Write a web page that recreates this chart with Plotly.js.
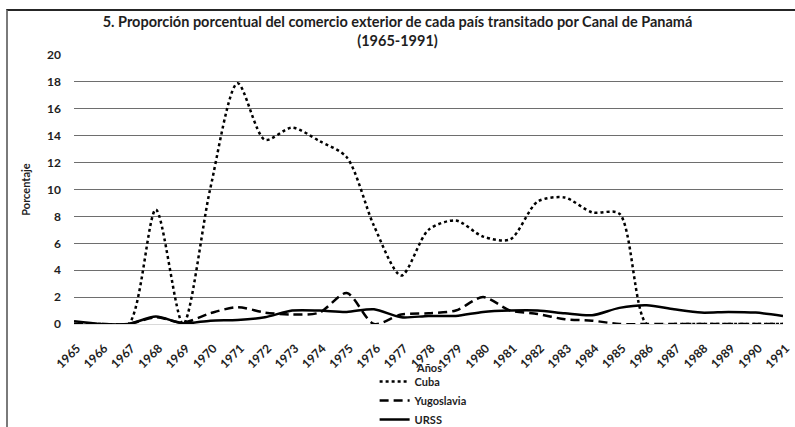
<!DOCTYPE html>
<html>
<head>
<meta charset="utf-8">
<script src="https://cdn.plot.ly/plotly-3.0.1.min.js"></script>
<style>
  html, body { margin: 0; padding: 0; background: #fff; }
  #wrap { position: relative; width: 795px; height: 427px; overflow: hidden; }
  #chart { position: absolute; left: 0; top: 0; width: 795px; height: 427px; }
  #frame { position: absolute; left: 6px; top: 9px; width: 820px; height: 440px;
           border-left: 2px solid #7a7a7a; border-top: 2px solid #262626; pointer-events: none; }
</style>
</head>
<body>
<div id="wrap">
  <div id="chart"></div>
  <div id="frame"></div>
</div>
<script>
const years = ["1965","1966","1967","1968","1969","1970","1971","1972","1973","1974","1975","1976","1977","1978","1979","1980","1981","1982","1983","1984","1985","1986","1987","1988","1989","1990","1991"];
const cuba = [0, 0, 0, 8.5, 0, 10.1, 17.9, 13.7, 14.6, 13.6, 12.4, 7.3, 3.6, 7.0, 7.7, 6.5, 6.3, 9.1, 9.4, 8.3, 8.2, 0, 0, 0, 0, 0, 0];
const yugoslavia = [0, 0, 0, 0.5, 0.1, 0.8, 1.25, 0.85, 0.7, 0.85, 2.3, 0, 0.7, 0.8, 1.0, 2.0, 1.0, 0.75, 0.35, 0.25, 0, 0, 0, 0, 0, 0, 0];
const urss = [0.2, 0, 0, 0.55, 0.05, 0.25, 0.3, 0.5, 1.0, 1.0, 0.9, 1.1, 0.5, 0.6, 0.6, 0.9, 1.0, 1.0, 0.8, 0.65, 1.2, 1.4, 1.1, 0.85, 0.9, 0.85, 0.6];
const seriesNames = ["Cuba", "Yugoslavia", "URSS"];

const FONT = "Lato, 'Open Sans', sans-serif";
const TXT = "#1e1e1e";

const traces = [
  { x: years, y: cuba, name: seriesNames[0], type: "scatter", mode: "lines",
    line: { color: "#000", width: 2.5, dash: "dot", shape: "spline", smoothing: 0.8 } },
  { x: years, y: yugoslavia, name: seriesNames[1], type: "scatter", mode: "lines",
    line: { color: "#000", width: 2.5, dash: "9px,5px", shape: "spline", smoothing: 0.8 } },
  { x: years, y: urss, name: seriesNames[2], type: "scatter", mode: "lines",
    line: { color: "#000", width: 2.5, shape: "spline", smoothing: 0.8 } }
];

const layout = {
  width: 795, height: 427,
  margin: { l: 74, r: 12, t: 55, b: 103, autoexpand: false },
  paper_bgcolor: "rgba(0,0,0,0)",
  plot_bgcolor: "#fff",
  font: { family: FONT, color: TXT, size: 12 },
  title: {
    text: "<b>5. Proporción porcentual del comercio exterior de cada país transitado por Canal de Panamá<br>(1965-1991)</b>",
    font: { family: FONT, size: 14.5, color: TXT },
    x: 0.5, xref: "container", xanchor: "center",
    y: 0.937, yref: "container", yanchor: "top"
  },
  xaxis: {
    type: "category",
    tickangle: -45,
    showgrid: false,
    showline: false,
    zeroline: false,
    ticks: "",
    ticklabelstandoff: 14,
    ticklabelshift: 3,
    tickfont: { family: FONT, size: 12, color: TXT, weight: "bold" },
    automargin: false,
    fixedrange: true
  },
  yaxis: {
    range: [0, 20],
    dtick: 2,
    showgrid: true,
    gridcolor: "#6e6e6e",
    gridwidth: 1,
    zeroline: true,
    zerolinecolor: "#d9d9d9",
    zerolinewidth: 1,
    showline: false,
    ticks: "",
    ticklabelstandoff: 12,
    tickfont: { family: FONT, size: 12, color: TXT, weight: "bold" },
    title: { text: "<b>Porcentaje</b>", font: { family: FONT, size: 11, color: TXT }, standoff: 14 },
    automargin: false,
    fixedrange: true
  },
  showlegend: true,
  legend: {
    orientation: "v",
    x: 0.424, xanchor: "left",
    y: -0.160, yanchor: "top",
    bgcolor: "rgba(0,0,0,0)",
    font: { family: FONT, size: 11, color: TXT, weight: "bold" },
    tracegroupgap: 0,
    itemwidth: 30
  },
  annotations: [
    { text: "<b>Años</b>", xref: "paper", yref: "paper", x: 0.5, y: -0.16,
      xanchor: "center", yanchor: "middle", showarrow: false,
      font: { family: FONT, size: 11, color: TXT } }
  ]
};

Plotly.newPlot("chart", traces, layout, { displayModeBar: false, staticPlot: true });
</script>
</body>
</html>
